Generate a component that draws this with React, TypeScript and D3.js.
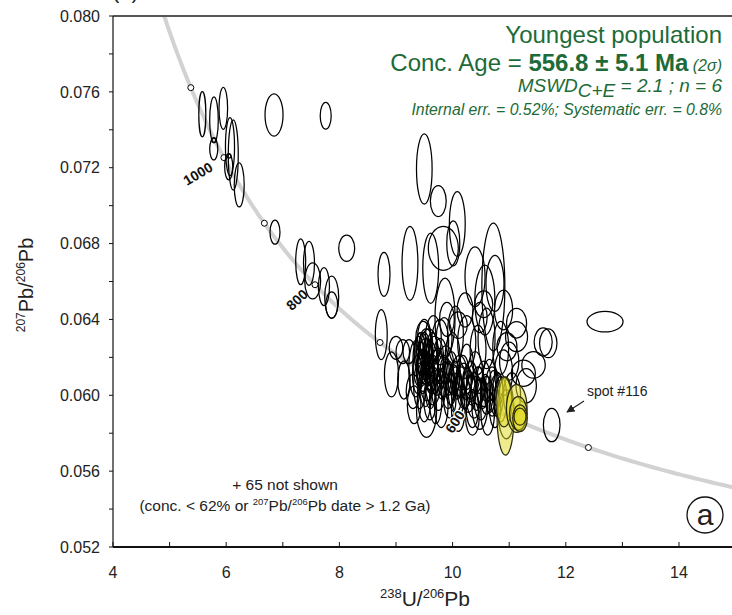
import React from "react";
import * as d3 from "d3";

// ---- axis ticks ----
const xTickValues = [4, 6, 8, 10, 12, 14];
const xMinorTicks = [5, 7, 9, 11, 13, 15];
const yTickValues = [0.052, 0.056, 0.06, 0.064, 0.068, 0.072, 0.076, 0.08];
const yMinorTicks = [0.054, 0.058, 0.062, 0.066, 0.07, 0.074, 0.078];

// ---- concordia age markers (Ma) ----
const markerAges = [500, 600, 700, 800, 900, 1000, 1100];
const labelledAges = [1000, 800, 600];

// ---- ellipses: [238U/206Pb, 207Pb/206Pb, half-width x, half-height y] ----
const oldGrains: number[][] = [
  [5.578, 0.07482, 0.062, 0.00119],
  [5.784, 0.07452, 0.076, 0.00121],
  [5.949, 0.07513, 0.076, 0.00111],
  [5.78, 0.07299, 0.071, 0.00058],
  [5.784, 0.07346, 0.042, 0.00012],
  [6.067, 0.07311, 0.08, 0.00153],
  [6.125, 0.07267, 0.088, 0.00185],
  [6.044, 0.07205, 0.071, 0.00069],
  [6.05, 0.07262, 0.035, 0.00011],
  [6.23, 0.07109, 0.088, 0.00116],
  [6.845, 0.07478, 0.159, 0.00111],
  [7.758, 0.07474, 0.097, 0.00071],
  [6.862, 0.0686, 0.088, 0.00063],
  [8.129, 0.06775, 0.141, 0.00069],
  [7.316, 0.06704, 0.088, 0.00121],
  [7.463, 0.06696, 0.097, 0.00116],
  [7.528, 0.06603, 0.141, 0.00095],
  [7.728, 0.06573, 0.097, 0.001],
  [7.864, 0.06517, 0.124, 0.00111],
  [7.864, 0.06476, 0.106, 0.00069],
];

const discordantGrains: number[][] = [
  [9.5, 0.07193, 0.138, 0.00185],
  [9.747, 0.07024, 0.14, 0.00082],
  [10.083, 0.06903, 0.14, 0.00171],
  [10.012, 0.06801, 0.115, 0.00119],
  [9.836, 0.06775, 0.265, 0.00116],
  [9.613, 0.0667, 0.14, 0.00185],
  [9.247, 0.06696, 0.14, 0.00195],
  [8.788, 0.06638, 0.106, 0.00116],
  [10.72, 0.06571, 0.203, 0.00337],
  [10.396, 0.06625, 0.177, 0.00158],
  [10.749, 0.0659, 0.159, 0.00148],
  [9.866, 0.06408, 0.177, 0.0021],
  [10.57, 0.06502, 0.177, 0.00185],
  [12.693, 0.06388, 0.318, 0.00054],
  [11.751, 0.05843, 0.147, 0.00088],
  [11.69, 0.06274, 0.154, 0.00076],
  [11.6, 0.06281, 0.16, 0.00074],
  [11.43, 0.0616, 0.207, 0.0007],
  [11.25, 0.06116, 0.212, 0.00069],
  [11.13, 0.0638, 0.177, 0.00078],
  [11.13, 0.06309, 0.194, 0.00079],
  [10.96, 0.06256, 0.177, 0.00074],
  [10.9, 0.0645, 0.16, 0.00105],
  [11.3, 0.0605, 0.18, 0.0009],
  [11.05, 0.06, 0.15, 0.0012],
  [10.95, 0.059, 0.14, 0.0013],
];

const mainCluster: number[][] = [
  [8.74, 0.0632, 0.105, 0.00132],
  [8.92, 0.0611, 0.124, 0.00119],
  [9.0, 0.0625, 0.12, 0.0006],
  [9.12, 0.0623, 0.12, 0.00063],
  [9.23, 0.0623, 0.106, 0.00063],
  [9.35, 0.0614, 0.124, 0.00148],
  [9.14, 0.0608, 0.11, 0.001],
  [9.3, 0.0602, 0.12, 0.0009],
  [9.45, 0.0622, 0.13, 0.0011],
  [9.52, 0.0618, 0.14, 0.0012],
  [9.48, 0.0612, 0.12, 0.001],
  [9.58, 0.0625, 0.15, 0.001],
  [9.55, 0.0608, 0.13, 0.0011],
  [9.62, 0.0615, 0.12, 0.0013],
  [9.42, 0.0605, 0.11, 0.0012],
  [9.68, 0.062, 0.16, 0.0011],
  [9.5, 0.06, 0.12, 0.0014],
  [9.65, 0.0605, 0.13, 0.001],
  [9.72, 0.0612, 0.14, 0.0012],
  [9.6, 0.0598, 0.11, 0.0011],
  [9.45, 0.0615, 0.09, 0.0009],
  [9.58, 0.0613, 0.1, 0.0008],
  [9.53, 0.0627, 0.12, 0.0008],
  [9.78, 0.0618, 0.13, 0.0012],
  [9.75, 0.0603, 0.12, 0.0011],
  [9.66, 0.063, 0.14, 0.0012],
  [9.48, 0.063, 0.13, 0.0009],
  [9.4, 0.0618, 0.1, 0.0013],
  [9.62, 0.0608, 0.09, 0.0007],
  [9.7, 0.0597, 0.11, 0.0012],
  [9.85, 0.061, 0.13, 0.0011],
  [9.92, 0.0605, 0.12, 0.0012],
  [9.88, 0.0616, 0.14, 0.001],
  [9.98, 0.0612, 0.12, 0.0011],
  [10.05, 0.0603, 0.13, 0.0012],
  [10.02, 0.0608, 0.1, 0.0008],
  [10.12, 0.061, 0.14, 0.0011],
  [10.1, 0.06, 0.12, 0.001],
  [10.2, 0.0605, 0.13, 0.0012],
  [10.18, 0.0612, 0.11, 0.0009],
  [10.28, 0.0602, 0.13, 0.0011],
  [10.32, 0.0608, 0.12, 0.001],
  [10.38, 0.06, 0.14, 0.0012],
  [10.45, 0.0605, 0.12, 0.001],
  [9.95, 0.0598, 0.11, 0.001],
  [10.0, 0.062, 0.13, 0.0013],
  [10.25, 0.0615, 0.12, 0.0012],
  [10.4, 0.0612, 0.13, 0.0011],
  [10.5, 0.0598, 0.12, 0.0011],
  [10.55, 0.0606, 0.13, 0.0012],
  [10.6, 0.06, 0.11, 0.001],
  [10.65, 0.0608, 0.12, 0.0011],
  [10.7, 0.0602, 0.13, 0.0013],
  [10.78, 0.06, 0.12, 0.0011],
  [10.85, 0.0598, 0.11, 0.0012],
  [10.1, 0.0592, 0.12, 0.0011],
  [10.35, 0.0593, 0.11, 0.001],
  [9.54, 0.0592, 0.177, 0.00142],
  [10.48, 0.0595, 0.14, 0.0013],
  [10.35, 0.0588, 0.12, 0.0009],
  [9.8, 0.0594, 0.12, 0.0011],
  [10.62, 0.0591, 0.12, 0.0012],
  [10.75, 0.0593, 0.1, 0.001],
  [9.32, 0.0595, 0.12, 0.001],
  [9.78, 0.0628, 0.15, 0.0012],
  [10.05, 0.0632, 0.14, 0.0015],
  [10.25, 0.0628, 0.16, 0.0014],
  [10.45, 0.0624, 0.14, 0.0013],
  [10.6, 0.063, 0.15, 0.0016],
  [10.85, 0.0625, 0.14, 0.0014],
  [10.9, 0.0612, 0.16, 0.0012],
  [11.0, 0.0618, 0.17, 0.001],
  [10.1, 0.0637, 0.16, 0.0007],
  [10.48, 0.0641, 0.13, 0.0008],
  [10.55, 0.0648, 0.16, 0.0007],
  [10.22, 0.0645, 0.14, 0.0009],
  [9.9, 0.064, 0.13, 0.0009],
  [9.5, 0.063, 0.12, 0.001],
  [9.85, 0.063, 0.14, 0.0011],
];

const clusterCore: number[][] = [
  [9.44, 0.062, 0.09, 0.0008],
  [9.5, 0.0624, 0.1, 0.0009],
  [9.47, 0.0609, 0.09, 0.0008],
  [9.56, 0.062, 0.09, 0.0007],
  [9.52, 0.0603, 0.1, 0.0009],
  [9.6, 0.0611, 0.08, 0.0008],
  [9.64, 0.0624, 0.1, 0.0009],
  [9.43, 0.0626, 0.08, 0.0007],
  [9.57, 0.0616, 0.08, 0.0006],
  [9.69, 0.0609, 0.09, 0.0008],
  [9.74, 0.0616, 0.1, 0.0009],
  [9.81, 0.0606, 0.09, 0.0008],
  [9.86, 0.0613, 0.08, 0.0007],
  [9.93, 0.0609, 0.1, 0.0009],
  [9.97, 0.0603, 0.09, 0.0008],
  [10.04, 0.061, 0.09, 0.0008],
  [10.08, 0.0605, 0.08, 0.0007],
  [10.15, 0.0607, 0.1, 0.0008],
  [10.22, 0.0601, 0.09, 0.0008],
  [10.26, 0.0608, 0.08, 0.0007],
  [10.33, 0.0603, 0.09, 0.0008],
  [10.42, 0.0601, 0.1, 0.0009],
  [10.47, 0.0608, 0.08, 0.0007],
  [10.53, 0.0601, 0.09, 0.0008],
  [10.58, 0.0604, 0.08, 0.0007],
  [10.66, 0.0599, 0.09, 0.0008],
  [10.72, 0.0605, 0.08, 0.0008],
  [10.8, 0.0603, 0.09, 0.0009],
  [9.51, 0.0614, 0.07, 0.0006],
  [9.46, 0.0617, 0.07, 0.0007],
  [9.55, 0.0622, 0.08, 0.0008],
  [9.61, 0.0602, 0.09, 0.0009],
  [9.38, 0.0611, 0.09, 0.001],
  [9.66, 0.0614, 0.08, 0.0007],
];

const youngestPopulation: number[][] = [
  [10.935, 0.05891, 0.15, 0.00206],
  [10.908, 0.05965, 0.141, 0.00132],
  [11.133, 0.05931, 0.182, 0.00127],
  [11.161, 0.05905, 0.154, 0.00088],
  [11.191, 0.05879, 0.129, 0.0007],
  [11.191, 0.05887, 0.106, 0.00045],
];

// ---- concordia (Tera-Wasserburg) from decay constants ----
const L238 = 1.55125e-4; // per Ma
const L235 = 9.8485e-4;
const U238_235 = 137.818;
function teraWasserburg(t: number): [number, number] {
  const a = Math.expm1(L238 * t);
  const b = Math.expm1(L235 * t);
  return [1 / a, b / a / U238_235];
}

const FONT = "Arial, 'Liberation Sans', Helvetica, sans-serif";
const GREEN = "#1d6b38";

export default function App() {
  const left = 113, right = 732, top = 16, bottom = 547;
  const x = d3.scaleLinear().domain([4, 15]).range([113, 735.6]);
  const y = d3.scaleLinear().domain([0.052, 0.08]).range([547, 16]);

  const curve = d3.range(380, 1320, 2).map(teraWasserburg);
  const linePath = d3
    .line<[number, number]>()
    .x((d) => x(d[0]))
    .y((d) => y(d[1]))(curve) as string;

  const ell = (d: number[], i: number, yellow = false) => (
    <ellipse
      key={i}
      cx={x(d[0])}
      cy={y(d[1])}
      rx={x(d[0] + d[2]) - x(d[0])}
      ry={y(d[1]) - y(d[1] + d[3])}
      fill={yellow ? "#e0d922" : "none"}
      fillOpacity={yellow ? 0.5 : 0}
      stroke={yellow ? "#2a2a10" : "#000"}
      strokeWidth={1.25}
    />
  );

  const labelLayout: Record<number, { dx: number; dy: number; rot: number; halo: boolean }> = {
    1000: { dx: -26, dy: 16, rot: -31, halo: false },
    800: { dx: -18, dy: 15, rot: -43, halo: false },
    600: { dx: -12, dy: 25, rot: -57, halo: true },
  };

  return (
    <svg
      width={732}
      height={615}
      style={{ position: "absolute", left: 0, top: 0, background: "#fff" }}
      fontFamily={FONT}
    >
      <defs>
        <clipPath id="plot">
          <rect x={left} y={top} width={right - left} height={bottom - top} />
        </clipPath>
        <marker id="arr" viewBox="0 0 10 10" refX={9} refY={5} markerWidth={7} markerHeight={7} orient="auto">
          <path d="M0,0 L10,5 L0,10 z" fill="#222" />
        </marker>
      </defs>
      <rect x={0} y={0} width={732} height={615} fill="#fff" />

      {/* cut-off panel label at top */}
      <text x={112} y={-2} fontSize={22} fill="#222">(a)</text>

      {/* concordia + ellipses */}
      <g clipPath="url(#plot)">
        <path d={linePath} fill="none" stroke="#d2d2d2" strokeWidth={4} />
        {markerAges.map((t) => {
          const p = teraWasserburg(t);
          return (
            <circle key={t} cx={x(p[0])} cy={y(p[1])} r={3} fill="#fff" stroke="#000" strokeWidth={1} />
          );
        })}
        {oldGrains.map((d, i) => ell(d, i))}
        {discordantGrains.map((d, i) => ell(d, i))}
        {mainCluster.map((d, i) => ell(d, i))}
        {clusterCore.map((d, i) => ell(d, i))}
        {youngestPopulation.map((d, i) => ell(d, i, true))}
      </g>

      {labelledAges.map((t) => {
        const p = teraWasserburg(t);
        const L = labelLayout[t];
        const px = x(p[0]) + L.dx;
        const py = y(p[1]) + L.dy;
        return (
          <text
            key={t}
            transform={`translate(${px},${py}) rotate(${L.rot})`}
            textAnchor="middle"
            dominantBaseline="central"
            fontSize={14}
            fontWeight="bold"
            fill="#111"
            stroke={L.halo ? "#fff" : "none"}
            strokeWidth={L.halo ? 2.5 : 0}
            paintOrder="stroke"
          >
            {t}
          </text>
        );
      })}

      {/* axes */}
      <line x1={left} x2={right} y1={top} y2={top} stroke="#555" strokeWidth={2} />
      <line x1={left} x2={left} y1={top} y2={bottom} stroke="#111" strokeWidth={1.2} />
      <line x1={left} x2={right} y1={bottom} y2={bottom} stroke="#111" strokeWidth={2} />
      {[...yTickValues, ...yMinorTicks].map((v) => (
        <line key={"yt" + v} x1={left - 4} x2={left} y1={y(v)} y2={y(v)} stroke="#111" strokeWidth={1} />
      ))}
      {[...xTickValues, ...xMinorTicks].map((v) => (
        <line key={"xt" + v} x1={x(v)} x2={x(v)} y1={bottom - 5} y2={bottom} stroke="#111" strokeWidth={1} />
      ))}
      {yTickValues.map((v) => (
        <text key={"yl" + v} x={100} y={y(v)} dy="0.36em" textAnchor="end" fontSize={16} fill="#222">
          {d3.format(".3f")(v)}
        </text>
      ))}
      {xTickValues.map((v) => (
        <text key={"xl" + v} x={x(v)} y={578} textAnchor="middle" fontSize={16} fill="#222">
          {v}
        </text>
      ))}

      {/* axis titles */}
      <text x={425} y={606} textAnchor="middle" fontSize={21} fill="#222">
        <tspan fontSize={13} dy={-8}>238</tspan>
        <tspan dy={8}>U/</tspan>
        <tspan fontSize={13} dy={-8}>206</tspan>
        <tspan dy={8}>Pb</tspan>
      </text>
      <text transform="translate(33,285) rotate(-90)" textAnchor="middle" fontSize={20} fill="#222">
        <tspan fontSize={12} dy={-8}>207</tspan>
        <tspan dy={8}>Pb/</tspan>
        <tspan fontSize={12} dy={-8}>206</tspan>
        <tspan dy={8}>Pb</tspan>
      </text>

      {/* result text */}
      <text x={722} y={43} textAnchor="end" fontSize={24} fill={GREEN}>Youngest population</text>
      <text x={722} y={71} textAnchor="end" fontSize={24} fill={GREEN}>
        <tspan>Conc. Age = </tspan>
        <tspan fontWeight="bold">556.8 ± 5.1 Ma</tspan>
        <tspan fontSize={16} fontStyle="italic"> (2σ)</tspan>
      </text>
      <text x={722} y={92} textAnchor="end" fontSize={19} fontStyle="italic" fill={GREEN}>
        <tspan>MSWD</tspan>
        <tspan dy={5}>C+E</tspan>
        <tspan dy={-5}> = 2.1 ; n = 6</tspan>
      </text>
      <text x={722} y={115} textAnchor="end" fontSize={15.8} fontStyle="italic" fill={GREEN}>
        Internal err. = 0.52%; Systematic err. = 0.8%
      </text>

      {/* spot annotation */}
      <text x={587} y={396} fontSize={14} fill="#222">spot #116</text>
      <line x1={584} y1={401} x2={567} y2={412} stroke="#222" strokeWidth={1.2} markerEnd="url(#arr)" />

      {/* notes */}
      <text x={285} y={490} textAnchor="middle" fontSize={15.5} fill="#222">+ 65 not shown</text>
      <text x={285} y={511} textAnchor="middle" fontSize={15.5} fill="#222">
        <tspan>(conc. &lt; 62% or </tspan>
        <tspan fontSize={9.5} dy={-6}>207</tspan>
        <tspan dy={6}>Pb/</tspan>
        <tspan fontSize={9.5} dy={-6}>206</tspan>
        <tspan dy={6}>Pb date &gt; 1.2 Ga)</tspan>
      </text>

      {/* panel badge */}
      <circle cx={705} cy={515} r={18} fill="#fff" stroke="#111" strokeWidth={1.3} />
      <text x={705} y={515} dy="0.33em" textAnchor="middle" fontSize={30} fill="#222">a</text>
    </svg>
  );
}
